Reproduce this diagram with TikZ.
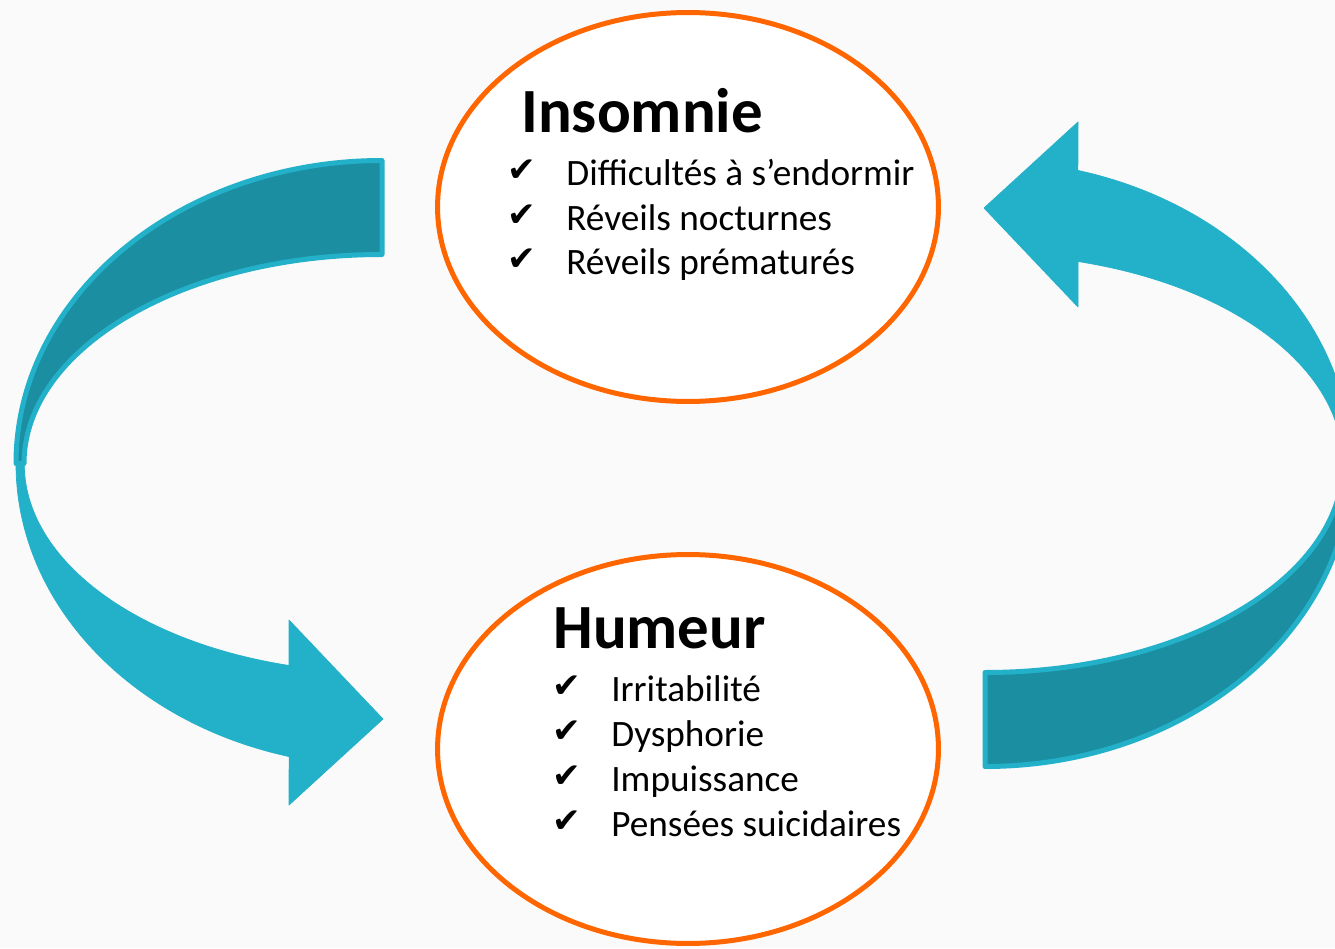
\documentclass[tikz,border=0pt]{standalone}
\usepackage{fontspec}
\setmainfont{Carlito}
\newfontfamily\checkfont{DejaVu Sans}
\usetikzlibrary{shapes.geometric}
\definecolor{ringorange}{RGB}{255,102,0}
\definecolor{teallight}{RGB}{35,177,201}
\definecolor{tealdark}{RGB}{27,142,161}
\definecolor{paper}{RGB}{250,250,250}
\tikzset{
  ring/.style={ellipse, draw=ringorange, line width=0.1cm, fill=white,
    minimum width=10.02cm, minimum height=7.78cm},
  heading/.style={anchor=base west, inner sep=0pt,
    font=\fontsize{35.8}{42}\selectfont\bfseries},
  entry/.style={anchor=base west, inner sep=0pt,
    font=\fontsize{21.2}{25}\selectfont},
  tickmark/.style={anchor=base west, inner sep=0pt,
    font=\checkfont\fontsize{19.5}{24}\selectfont},
  loop arrow/.pic={
    \filldraw[fill=tealdark, draw=teallight, line width=0.1cm, line join=round]
      (-301.5, 303) arc[start angle=90, end angle=180, x radius=366, y radius=303]
      -- (-659.5, 0) arc[start angle=180, end angle=90, x radius=358, y radius=209]
      -- cycle;
    \filldraw[teallight, line join=round]
      (-667.5, 0) arc[start angle=180, end angle=255.3, x radius=366, y radius=303]
      -- (-394.5, -341.5) -- (-300.5, -255.5) -- (-394.5, -156.5)
      -- (-394.5, -202) arc[start angle=254.9, end angle=180, x radius=358, y radius=209]
      -- cycle;
  }
}
\begin{document}
\begin{tikzpicture}[x=0.02cm, y=0.02cm]
  \fill[paper] (0, 0) rectangle (1335, 948);
  \useasboundingbox (0, 0) rectangle (1335, 948);
  \clip (0, 0) rectangle (1335, 948);
  \coordinate (mid) at (683.5, 484.5);
  \pic at (mid) {loop arrow};
  \pic[rotate=180] at (mid) {loop arrow};
  \node[ring] (insomnie) at (688, 741) {};
  \node[ring] (humeur) at (688, 199) {};
  \node[heading] (insomnie title) at (521, 815) {Insomnie};
  \foreach \txt [count=\i] in {Difficultés à s’endormir, Réveils nocturnes, Réveils prématurés} {
    \node[tickmark] (insomnie tick \i) at (507, {766 - 44.5 * (\i - 1)}) {✔};
    \node[entry] (insomnie item \i) at (566, {762 - 44.5 * (\i - 1)}) {\txt};
  }
  \node[heading] (humeur title) at (553, 300) {Humeur};
  \foreach \txt [count=\i] in {Irritabilité, Dysphorie, Impuissance, Pensées suicidaires} {
    \node[tickmark] (humeur tick \i) at (552, {251 - 45 * (\i - 1)}) {✔};
    \node[entry] (humeur item \i) at (611, {247 - 45 * (\i - 1)}) {\txt};
  }
\end{tikzpicture}
\end{document}
